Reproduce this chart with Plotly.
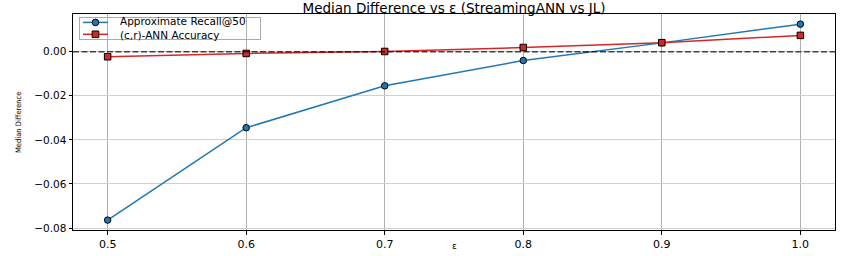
import plotly.graph_objects as go

eps = [0.5, 0.6, 0.7, 0.8, 0.9, 1.0]
recall_diff = [-0.0764, -0.0345, -0.0155, -0.0040, 0.0040, 0.0125]
ann_acc_diff = [-0.0023, -0.0008, 0.0001, 0.0019, 0.0041, 0.0074]
x_ticks = [0.5, 0.6, 0.7, 0.8, 0.9, 1.0]
y_ticks = [-0.08, -0.06, -0.04, -0.02, 0.00]
series_names = ["Approximate Recall@50", "(c,r)-ANN Accuracy"]
series_colors = ["#1f77b4", "#d62728"]
series_symbols = ["circle", "square"]

fig = go.Figure()
for ys, name, col, sym in zip([recall_diff, ann_acc_diff], series_names, series_colors, series_symbols):
    fig.add_trace(go.Scatter(
        x=eps, y=ys, mode="lines+markers", name=name, showlegend=False,
        line=dict(color=col, width=1.5),
        marker=dict(symbol=sym, size=6.5, color=col, line=dict(color="black", width=1)),
    ))

# compact matplotlib-style legend, placed in axes (paper) coordinates
shapes = []
entry_y = [0.961, 0.906]
for ey, col, sym in zip(entry_y, series_colors, series_symbols):
    shapes.append(dict(type="line", xref="paper", yref="paper", x0=0.0131, x1=0.0459, y0=ey, y1=ey,
                       line=dict(color=col, width=1.5), layer="above"))
    shapes.append(dict(type="circle" if sym == "circle" else "rect", xref="paper", yref="paper",
                       xsizemode="pixel", ysizemode="pixel", xanchor=0.0295, yanchor=ey,
                       x0=-3.3, x1=3.3, y0=-3.3, y1=3.3, fillcolor=col,
                       line=dict(color="black", width=1), layer="above"))
annots = [
    # legend frame
    dict(xref="paper", yref="paper", x=0.0079, y=0.988, xanchor="left", yanchor="top",
         text=" ", width=180, height=21, borderpad=0, showarrow=False,
         bordercolor="#aaaaaa", borderwidth=1, bgcolor="rgba(255,255,255,0)"),
    dict(xref="paper", yref="paper", x=0.0591, y=sum(entry_y) / 2, xanchor="left", yanchor="middle",
         text="<br>".join(series_names), align="left", showarrow=False, font=dict(size=10.5)),
    dict(xref="paper", yref="paper", x=0.5, y=-0.074, xanchor="center", yanchor="middle",
         text="ε", showarrow=False, font=dict(size=9)),
    dict(xref="paper", yref="paper", x=-0.0722, y=0.5, xanchor="center", yanchor="middle",
         text="Median Difference", textangle=-90, showarrow=False,
         font=dict(size=7.5, family="Liberation Sans Narrow, DejaVu Sans Condensed, DejaVu Sans")),
]

fig.update_layout(
    width=847, height=256,
    margin=dict(l=73, r=12, t=14, b=26),
    paper_bgcolor="white", plot_bgcolor="white",
    font=dict(family="DejaVu Sans", size=11, color="black"),
    title=dict(text="Median Difference vs ε (StreamingANN vs JL)", x=0.5, xref="paper", xanchor="center",
               y=0.969, yanchor="middle", font=dict(size=13.5)),
    showlegend=False,
    hovermode=False,
    shapes=shapes,
    annotations=annots,
)
fig.add_hline(y=0, line=dict(color="rgba(0,0,0,0.7)", width=1.5, dash="6px,2.5px"), layer="above")
fig.update_xaxes(
    range=[0.475, 1.025], tickvals=x_ticks, ticktext=[f"{v:.1f}" for v in x_ticks],
    showgrid=True, gridcolor="#b0b0b0", gridwidth=1,
    showline=True, linecolor="black", linewidth=1, mirror=True,
    ticks="outside", ticklen=3.5, tickcolor="black", zeroline=False, automargin=False,
    tickfont=dict(size=11),
)
fig.update_yaxes(
    range=[-0.0809, 0.0171], tickvals=y_ticks, tickformat=".2f",
    showgrid=True, gridcolor="#d0d0d0", gridwidth=1,
    showline=True, linecolor="black", linewidth=1, mirror=True,
    ticks="outside", ticklen=3.5, tickcolor="black", zeroline=False, automargin=False,
    tickfont=dict(size=10.5),
)
fig.write_html("out.html", config={"displayModeBar": False},
               post_script="document.body.style.margin='0';")
